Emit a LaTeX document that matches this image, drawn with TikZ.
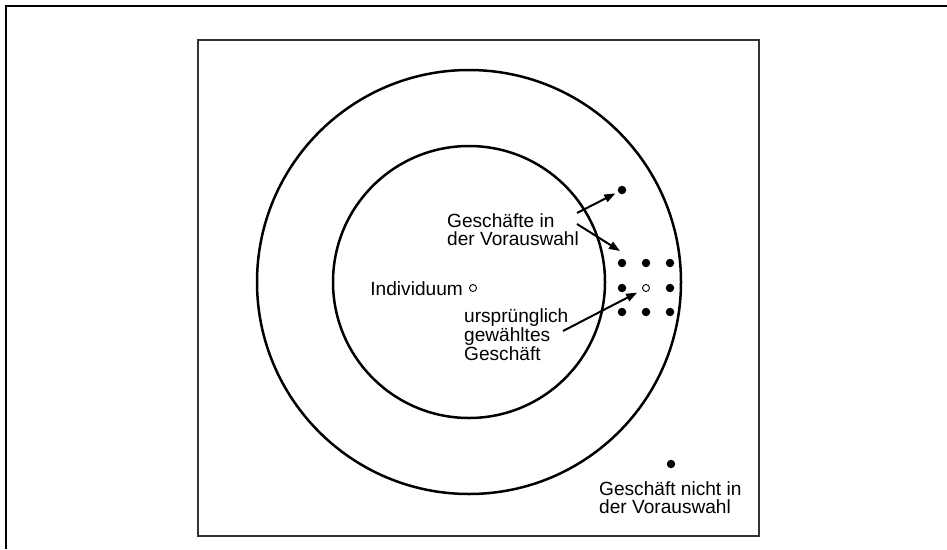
\documentclass[tikz,border=0pt]{standalone}
\usepackage{fontspec}
\setmainfont{Liberation Sans}
\usetikzlibrary{arrows.meta}

\begin{document}
\begin{tikzpicture}[x=1pt,y=-1pt]
  \tikzset{
    shop/.style={circle,fill=black,inner sep=0pt,minimum size=8.5pt},
    openshop/.style={circle,draw=black,line width=0.9pt,fill=white,inner sep=0pt,minimum size=7pt},
    note/.style={font=\fontsize{19.1}{17.6}\selectfont,align=left,anchor=base west,inner sep=0pt},
    pointer/.style={-{Triangle[length=11pt,width=8pt]},line width=2pt},
    ring/.style={line width=2.5pt}
  }
  \useasboundingbox (0,0) rectangle (947,549);
  \draw[line width=2pt] (6,549) -- (6,6) -- (947,6);
  \draw[line width=1.5pt,black!80] (198,40) rectangle (759,536);

  \draw[ring] (469,282) circle [radius=212];
  \draw[ring] (469,282) circle [radius=136];

  \node[openshop] (indivDot) at (473,288) {};
  \node[note,anchor=base east] (indiv) at (463,295) {Individuum};

  \foreach \x/\y/\n in {622/263/a,646/263/b,670/263/c,622/288/d,670/288/f,622/312/g,646/312/h,670/312/i}
    {\node[shop] (s\n) at (\x,\y) {};}
  \node[openshop] (dOrig) at (646,288) {};
  \node[shop] (dTop) at (622,190) {};
  \node[shop] (dOut) at (671,464) {};

  % anchor base = baseline of the last line
  \node[note] (vaText) at (447,245) {Geschäfte in\\der Vorauswahl};
  \node[note] (origText) at (464,360) {ursprünglich\\gewähltes\\Geschäft};
  \node[note] (outText) at (599,513) {Geschäft nicht in\\der Vorauswahl};

  \coordinate (vaFrom1) at (577,213);
  \coordinate (vaFrom2) at (577,224);
  \coordinate (vaTo2) at (620,251);
  \coordinate (origFrom) at (563,331);
  \draw[pointer,shorten >=3pt] (vaFrom1) -- (dTop);
  \draw[pointer] (vaFrom2) -- (vaTo2);
  \draw[pointer,shorten >=6pt] (origFrom) -- (dOrig);
\end{tikzpicture}
\end{document}
